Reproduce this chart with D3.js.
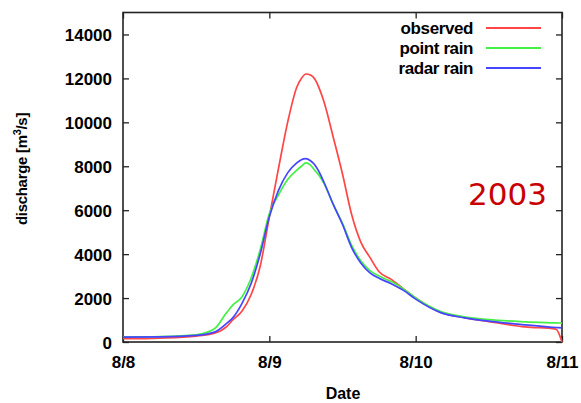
<!DOCTYPE html>
<html>
<head>
<meta charset="utf-8">
<script src="https://cdn.jsdelivr.net/npm/d3@7"></script>
<style>
  body { margin: 0; background: #fff; }
  svg text { font-family: "Liberation Sans", Arial, sans-serif; }
</style>
</head>
<body>
<svg id="graph" width="581" height="403"></svg>
<script>
// hours since 8/8 00:00
const hours    = [0, 6, 12, 15, 17, 18, 19.5, 21, 22.5, 24, 25.5, 27, 28.5, 29.25, 30, 30.75, 31.5, 32.25, 33, 34.5, 36, 37.5, 39, 40.5, 42, 44, 46, 48, 52, 56, 60, 66, 71, 72];
const observed = [150, 180, 270, 400, 700, 1000, 1400, 2150, 3450, 5700, 7900, 10000, 11600, 12000, 12200, 12150, 11950, 11500, 10900, 9300, 7650, 5800, 4550, 3850, 3200, 2850, 2420, 2000, 1360, 1110, 930, 690, 590, 0];
const pointRain = [230, 250, 330, 600, 1340, 1680, 2050, 2900, 4200, 5850, 6700, 7400, 7820, 8000, 8150, 8050, 7800, 7550, 7200, 6250, 5400, 4400, 3700, 3250, 3000, 2750, 2420, 2000, 1400, 1150, 1020, 920, 870, 860];
const radarRain = [220, 230, 300, 450, 850, 1100, 1750, 2650, 4000, 5700, 6900, 7700, 8150, 8300, 8350, 8250, 8050, 7700, 7250, 6250, 5350, 4300, 3600, 3150, 2900, 2650, 2350, 1950, 1350, 1100, 950, 780, 660, 640];

const xTicks = [0, 24, 48, 72];
const xTickLabels = ['8/8', '8/9', '8/10', '8/11'];
const yTicks = [0, 2000, 4000, 6000, 8000, 10000, 12000, 14000];

const series = [
  { name: 'observed', values: observed, color: '#ff4545' },
  { name: 'point rain', values: pointRain, color: '#45f045' },
  { name: 'radar rain', values: radarRain, color: '#4545ff' }
];

const mLeft = 123, mRight = 562, mTop = 12.5, mBottom = 342;

const svg = d3.select('#graph');

const x = d3.scaleLinear().domain([0, 72]).range([mLeft, mRight]);
const y = d3.scaleLinear().domain([0, 15000]).range([mBottom, mTop]);

// ticks pointing inward (gnuplot style), mirrored on top and right
const tk = 6;
const axisStyle = g => {
  g.select('.domain').remove();
  g.selectAll('line').attr('stroke', '#222').attr('stroke-width', 1.3);
};

svg.append('g')
  .attr('transform', `translate(${mLeft},0)`)
  .call(d3.axisLeft(y).tickValues(yTicks).tickSizeInner(-tk).tickSizeOuter(0).tickPadding(11).tickFormat(d3.format('d')))
  .call(axisStyle)
  .selectAll('text')
  .attr('font-size', 17).attr('font-weight', 'bold').attr('fill', '#000').attr('dy', '0.36em');

svg.append('g')
  .attr('transform', `translate(${mRight},0)`)
  .call(d3.axisRight(y).tickValues(yTicks).tickSizeInner(-tk).tickSizeOuter(0).tickFormat(''))
  .call(axisStyle);

svg.append('g')
  .attr('transform', `translate(0,${mBottom})`)
  .call(d3.axisBottom(x).tickValues(xTicks).tickSizeInner(-tk).tickSizeOuter(0).tickPadding(14).tickFormat((d, i) => xTickLabels[i]))
  .call(axisStyle)
  .selectAll('text')
  .attr('font-size', 17).attr('font-weight', 'bold').attr('fill', '#000');

svg.append('g')
  .attr('transform', `translate(0,${mTop})`)
  .call(d3.axisTop(x).tickValues(xTicks).tickSizeInner(-tk).tickSizeOuter(0).tickFormat(''))
  .call(axisStyle);

// frame
svg.append('rect')
  .attr('x', mLeft).attr('y', mTop)
  .attr('width', mRight - mLeft).attr('height', mBottom - mTop)
  .attr('fill', 'none').attr('stroke', '#222').attr('stroke-width', 1.6);

const line = d3.line()
  .x((d, i) => x(hours[i]))
  .y(d => y(d))
  .curve(d3.curveMonotoneX);

svg.append('g').selectAll('path')
  .data(series)
  .enter()
  .append('path')
  .attr('d', d => line(d.values))
  .attr('fill', 'none')
  .attr('stroke', d => d.color)
  .attr('stroke-width', 1.7);

// legend
const legend = svg.append('g').selectAll('g')
  .data(series)
  .enter()
  .append('g')
  .attr('transform', (d, i) => `translate(0,${28 + i * 20})`);

legend.append('text')
  .attr('x', 473).attr('dy', '0.36em')
  .attr('text-anchor', 'end')
  .attr('font-size', 17).attr('font-weight', 'bold')
  .attr('letter-spacing', -0.4)
  .text(d => d.name);

legend.append('line')
  .attr('x1', 486).attr('x2', 541)
  .attr('stroke', d => d.color).attr('stroke-width', 1.8);

// axis titles
svg.append('text')
  .attr('x', 343).attr('y', 399)
  .attr('text-anchor', 'middle')
  .attr('font-size', 16).attr('font-weight', 'bold')
  .text('Date');

const yl = svg.append('text')
  .attr('transform', 'translate(27,169) rotate(-90)')
  .attr('text-anchor', 'middle')
  .attr('font-size', 15).attr('font-weight', 'bold')
  .attr('letter-spacing', -0.3);
yl.append('tspan').text('discharge [m');
yl.append('tspan').attr('dy', -6).attr('font-size', 11).text('3');
yl.append('tspan').attr('dy', 6).text('/s]');

// year annotation
svg.append('text')
  .attr('x', 547).attr('y', 205)
  .attr('text-anchor', 'end')
  .style('font-family', '"DejaVu Sans", sans-serif')
  .attr('font-size', 31)
  .attr('fill', '#c80000')
  .text('2003');
</script>
</body>
</html>
